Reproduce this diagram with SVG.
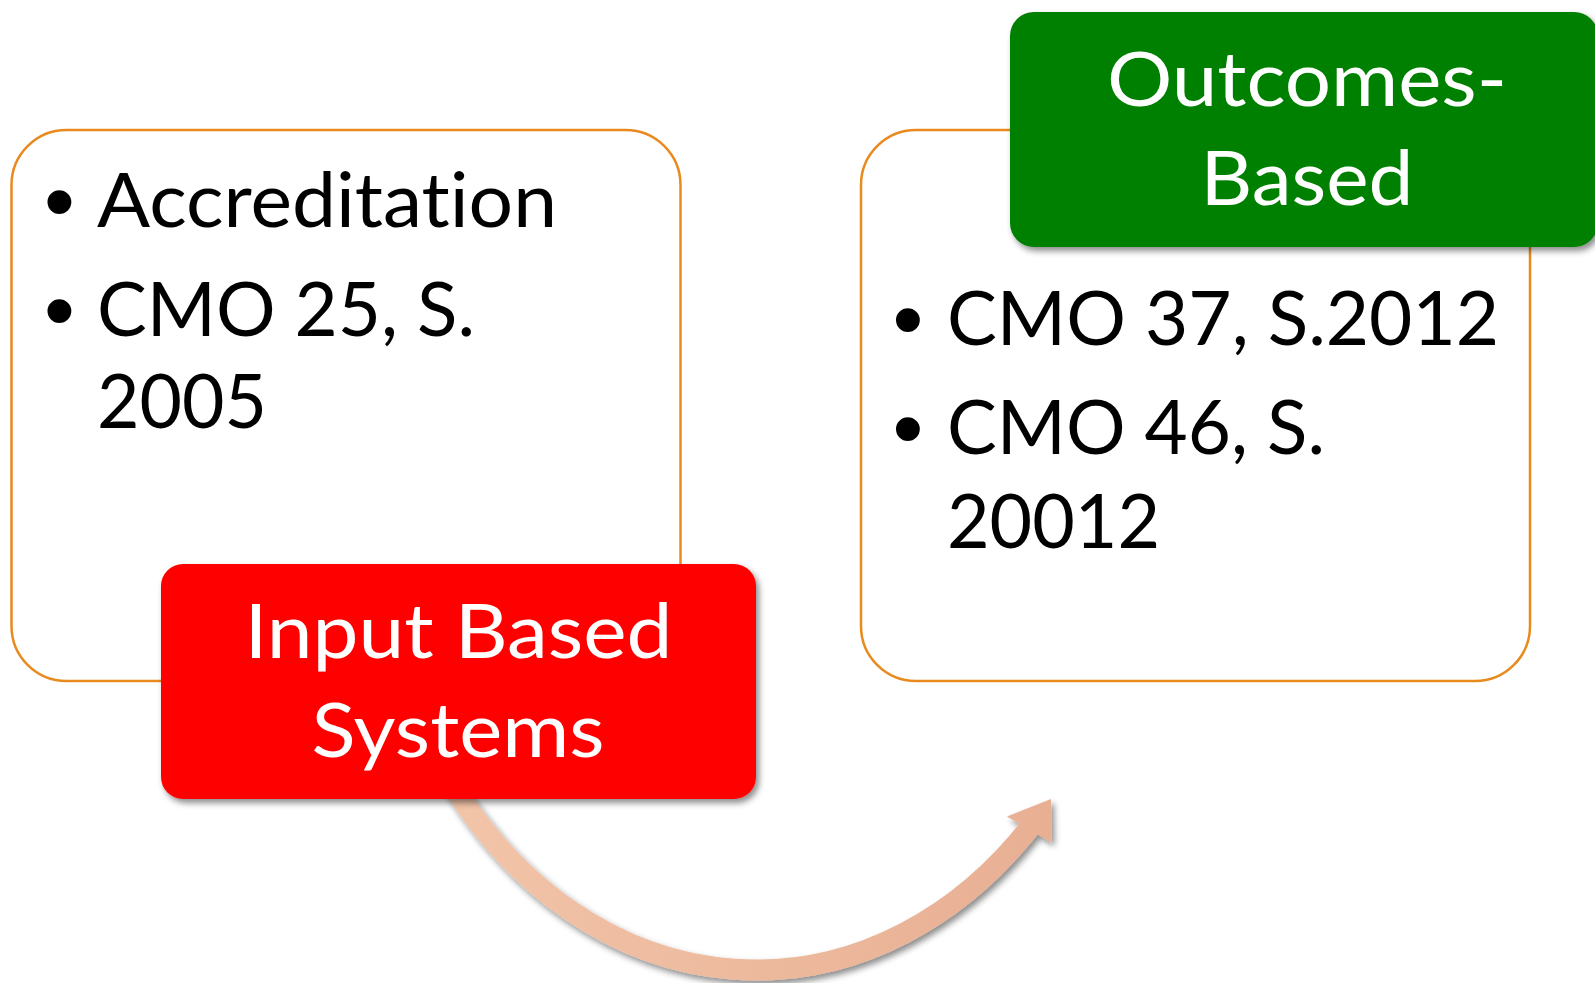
<svg xmlns="http://www.w3.org/2000/svg" width="1595" height="983" viewBox="0 0 1595 983">
  <defs>
    <style>
      .frame { fill: #ffffff; stroke: #E98A1F; stroke-width: 2.5; }
      .body { font-family: Lato, "Open Sans", "Liberation Sans", sans-serif; font-size: 76px; fill: #000000; font-variant-ligatures: none; font-feature-settings: "liga" 0, "clig" 0; }
      .bullet { font-family: "Liberation Sans", Arial, sans-serif; font-size: 88px; fill: #000000; text-anchor: middle; }
      .label { font-family: Lato, "Open Sans", "Liberation Sans", sans-serif; font-size: 76px; fill: #ffffff; text-anchor: middle; font-variant-ligatures: none; font-feature-settings: "liga" 0, "clig" 0; }
    </style>
    <filter id="shadow" x="-10%" y="-10%" width="130%" height="140%">
      <feDropShadow dx="3" dy="4" stdDeviation="3" flood-color="#000000" flood-opacity="0.45"/>
    </filter>
    <linearGradient id="arrowFill" gradientUnits="userSpaceOnUse" x1="450" y1="0" x2="1055" y2="0">
      <stop offset="0" stop-color="#F2C4A8"/>
      <stop offset="1" stop-color="#E8AF93"/>
    </linearGradient>
  </defs>

  <!-- left panel: input based -->
  <g id="input-panel">
    <rect class="frame" x="11.5" y="130" width="669" height="551" rx="55" ry="55"/>
    <text class="bullet" x="59.4" y="231">•</text>
    <text class="body" x="97" y="226.7" textLength="460" lengthAdjust="spacingAndGlyphs">Accreditation</text>
    <text class="bullet" x="59.4" y="340">•</text>
    <text class="body" x="97" y="335.8" textLength="378" lengthAdjust="spacingAndGlyphs">CMO 25, S.</text>
    <text class="body" x="97" y="428.4" textLength="170" lengthAdjust="spacingAndGlyphs">2005</text>
  </g>

  <!-- right panel: outcomes based -->
  <g id="outcomes-panel">
    <rect class="frame" x="861" y="130" width="669" height="551" rx="55" ry="55"/>
    <text class="bullet" x="908" y="349">•</text>
    <text class="body" x="947" y="344.6" textLength="552" lengthAdjust="spacingAndGlyphs">CMO 37, S.2012</text>
    <text class="bullet" x="908" y="458">•</text>
    <text class="body" x="947" y="454" textLength="378" lengthAdjust="spacingAndGlyphs">CMO 46, S.</text>
    <text class="body" x="947" y="548" textLength="213" lengthAdjust="spacingAndGlyphs">20012</text>
  </g>

  <!-- curved connector from input to outcomes -->
  <g id="connectors" filter="url(#shadow)">
    <path d="M 451.7 783.6 A 381 468 0 0 0 1032.4 824.2" fill="none" stroke="url(#arrowFill)" stroke-width="21"/>
    <polygon points="1051,799 1007,816.5 1051.5,842.5" fill="url(#arrowFill)"/>
  </g>

  <!-- caption: input based systems -->
  <g id="input-caption">
    <rect x="161" y="564" width="595" height="235" rx="22" ry="22" fill="#FF0000" filter="url(#shadow)"/>
    <text class="label" x="458.5" y="657.5" textLength="428" lengthAdjust="spacingAndGlyphs">Input Based</text>
    <text class="label" x="458" y="757.3" textLength="293" lengthAdjust="spacingAndGlyphs">Systems</text>
  </g>

  <!-- caption: outcomes-based -->
  <g id="outcomes-caption">
    <rect x="1010" y="12" width="588" height="235" rx="24" ry="24" fill="#008000" filter="url(#shadow)"/>
    <text class="label" x="1307" y="106" textLength="400" lengthAdjust="spacingAndGlyphs">Outcomes-</text>
    <text class="label" x="1307" y="205" textLength="213" lengthAdjust="spacingAndGlyphs">Based</text>
  </g>
</svg>
